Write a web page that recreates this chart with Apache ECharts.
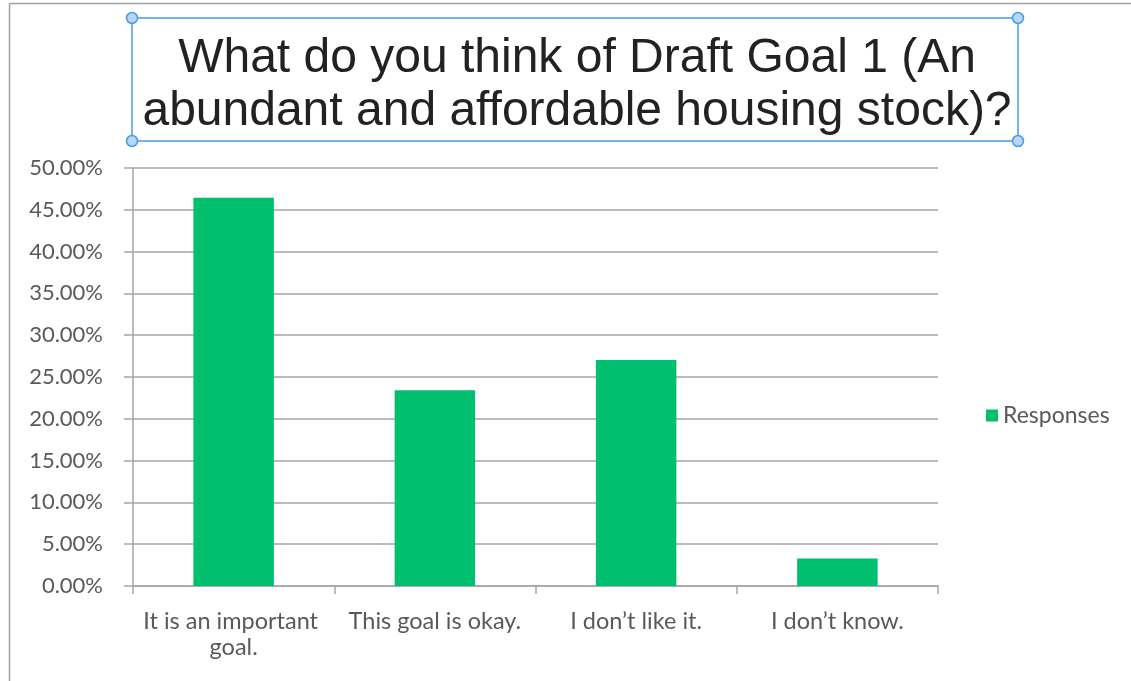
<!DOCTYPE html>
<html>
<head>
<meta charset="utf-8">
<title>Draft Goal 1</title>
<script src="https://cdn.jsdelivr.net/npm/echarts@6/dist/echarts.min.js"></script>
<style>
  html, body { margin: 0; padding: 0; background: #ffffff; }
  #chart { width: 1131px; height: 681px; }
</style>
</head>
<body>
<div id="chart"></div>
<script>
// Survey answers and their share of responses (percent)
const categories = [
  'It is an important goal.',
  'This goal is okay.',
  'I don\u2019t like it.',
  'I don\u2019t know.'
];
const responses = [46.45, 23.42, 27.02, 3.28];
const seriesName = 'Responses';
const titleText = 'What do you think of Draft Goal 1 (An\nabundant and affordable housing stock)?';

const axisGray = '#a6a6a6';
const labelGray = '#595959';
const barGreen = '#00bf6f';
const handleBlue = '#4a9be0';

const chart = echarts.init(document.getElementById('chart'), null, { renderer: 'canvas' });

// Frame and the selected title box with its corner handles
const handles = [[132, 18], [1018, 18], [132, 141], [1018, 141]].map(function (p) {
  return {
    type: 'circle',
    shape: { cx: p[0], cy: p[1], r: 5.5 },
    style: { fill: '#b5d6f7', stroke: handleBlue, lineWidth: 1.5 },
    z: 10
  };
});

chart.setOption({
  animation: false,
  backgroundColor: '#ffffff',
  graphic: [
    { type: 'line', shape: { x1: 9.5, y1: 3.5, x2: 1131, y2: 3.5 }, style: { stroke: '#a0a0a0', lineWidth: 1.5 } },
    { type: 'line', shape: { x1: 9.5, y1: 3.5, x2: 9.5, y2: 681 }, style: { stroke: '#a0a0a0', lineWidth: 1.5 } },
    { type: 'rect', shape: { x: 132, y: 18, width: 886, height: 123 }, style: { fill: 'none', stroke: handleBlue, lineWidth: 1.5 }, z: 9 }
  ].concat(handles),
  title: {
    text: titleText,
    left: 572,
    top: 27,
    textAlign: 'center',
    textStyle: {
      fontFamily: 'Liberation Sans',
      fontSize: 48,
      fontWeight: 'normal',
      color: '#222222',
      lineHeight: 53
    }
  },
  legend: {
    data: [seriesName],
    orient: 'vertical',
    left: 981,
    top: 399,
    itemWidth: 12,
    itemHeight: 12,
    itemGap: 8,
    icon: 'rect',
    textStyle: { fontFamily: 'Lato', fontSize: 23, color: labelGray }
  },
  grid: { left: 133, right: 193, top: 168, bottom: 95, containLabel: false },
  xAxis: {
    type: 'category',
    data: categories,
    boundaryGap: true,
    axisLine: { show: true, lineStyle: { color: axisGray, width: 1.5 } },
    axisTick: { show: true, alignWithLabel: false, length: 8, lineStyle: { color: axisGray, width: 1.5 } },
    axisLabel: {
      interval: 0,
      margin: 22,
      width: 195,
      overflow: 'break',
      lineHeight: 26,
      fontFamily: 'Lato',
      fontSize: 23.5,
      color: labelGray
    }
  },
  yAxis: {
    type: 'value',
    min: 0,
    max: 50,
    interval: 5,
    axisLine: { show: true, lineStyle: { color: axisGray, width: 1.5 } },
    axisTick: { show: true, length: 9, lineStyle: { color: axisGray, width: 1.5 } },
    splitLine: { show: true, lineStyle: { color: axisGray, width: 1.5 } },
    axisLabel: {
      margin: 30,
      fontFamily: 'Lato',
      fontSize: 22,
      color: labelGray,
      formatter: function (v) { return v.toFixed(2) + '%'; }
    }
  },
  series: [{
    name: seriesName,
    type: 'bar',
    data: responses,
    barWidth: '40%',
    itemStyle: { color: barGreen }
  }]
});
</script>
</body>
</html>
